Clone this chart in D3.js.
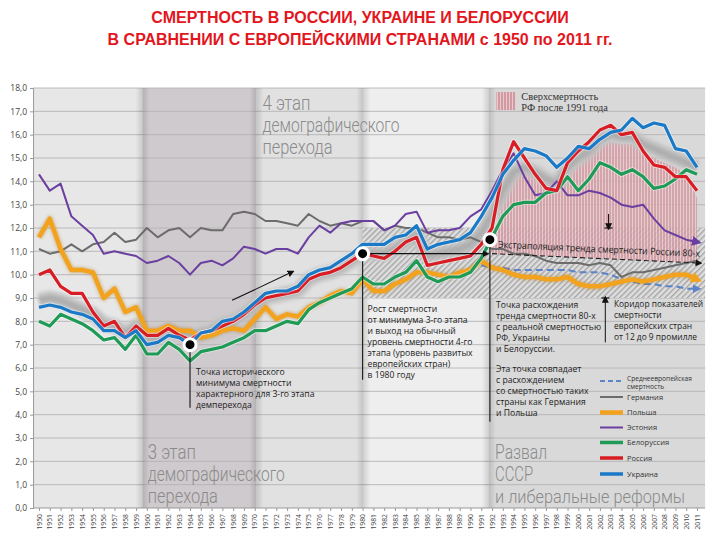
<!DOCTYPE html>
<html>
<head>
<meta charset="utf-8">
<script src="https://cdn.jsdelivr.net/npm/d3@7"></script>
<style>
  body { margin: 0; background: #fff; }
  svg { display: block; }
  text { font-family: "Open Sans", "DejaVu Sans", sans-serif; }
</style>
</head>
<body>
<svg id="chart" width="720" height="540"></svg>
<script>
// years on the x axis
const years = d3.range(1950, 2012);
const yTicks = d3.range(0, 19);

// crude death rate, per 1000
const estonia = [14.3, 13.6, 13.9, 12.5, 12.1, 11.7, 10.9, 11.0, 10.9, 10.8,
  10.5, 10.6, 10.8, 10.5, 10.0, 10.5, 10.6, 10.4, 10.7, 11.2,
  11.1, 10.9, 11.1, 11.1, 10.9, 11.6, 12.1, 11.8, 12.2, 12.3,
  12.3, 12.3, 11.9, 12.1, 12.6, 12.7, 11.8, 11.9, 11.9, 12.0,
  12.5, 12.8, 13.6, 14.5, 15.2, 14.2, 13.4, 13.5, 14.0, 13.4,
  13.4, 13.6, 13.5, 13.3, 13.0, 12.9, 13.0, 12.4, 11.9, 11.7, 11.5, 11.4];
const germany = [11.1, 10.9, 11.0, 11.3, 11.0, 11.3, 11.4, 11.8, 11.4, 11.5,
  12.0, 11.6, 11.9, 12.0, 11.6, 12.0, 11.9, 11.9, 12.6, 12.7,
  12.6, 12.3, 12.3, 12.2, 12.1, 12.6, 12.3, 12.1, 12.2, 12.1,
  12.3, 12.3, 11.9, 12.1, 12.0, 12.0, 11.8, 11.6, 11.6, 11.5,
  11.6, 11.4, 11.1, 11.1, 10.9, 10.9, 10.8, 10.6, 10.5, 10.5,
  10.5, 10.4, 10.5, 10.4, 9.9, 10.1, 10.1, 10.2, 10.3, 10.4, 10.5, 10.6];
const poland = [11.6, 12.4, 11.1, 10.2, 10.2, 10.1, 9.0, 9.4, 8.4, 8.6,
  7.6, 7.6, 7.8, 7.6, 7.6, 7.3, 7.4, 7.6, 7.7, 7.6,
  8.1, 8.6, 8.1, 8.3, 8.2, 8.6, 8.8, 9.1, 9.3, 9.2,
  9.8, 9.3, 9.3, 9.6, 9.8, 10.1, 10.1, 10.0, 9.9, 10.1,
  10.2, 10.6, 10.3, 10.2, 10.0, 9.9, 9.9, 9.8, 9.8, 9.9,
  9.6, 9.5, 9.5, 9.6, 9.7, 9.8, 9.7, 9.8, 9.9, 10.0, 10.0, 9.8];
const belarus = [8.0, 7.8, 8.3, 8.1, 7.9, 7.6, 7.2, 7.3, 6.8, 7.4,
  6.6, 6.6, 7.1, 6.8, 6.3, 6.7, 6.8, 6.9, 7.1, 7.3,
  7.6, 7.6, 7.8, 8.0, 7.9, 8.5, 8.8, 9.0, 9.2, 9.4,
  9.9, 9.6, 9.6, 9.9, 10.1, 10.6, 9.9, 9.7, 9.9, 9.9,
  10.1, 10.7, 11.6, 12.5, 13.0, 13.1, 13.1, 13.5, 13.6, 14.2,
  13.6, 14.1, 14.8, 14.6, 14.3, 14.5, 14.2, 13.7, 13.8, 14.1, 14.5, 14.3];
const russia = [10.0, 10.2, 9.5, 9.2, 9.2, 8.4, 7.8, 8.0, 7.3, 7.8,
  7.4, 7.4, 7.7, 7.4, 7.2, 7.5, 7.6, 7.8, 8.0, 8.3,
  8.7, 9.0, 9.1, 9.2, 9.3, 9.8, 10.0, 10.1, 10.3, 10.6,
  10.9, 10.8, 10.7, 11.0, 11.4, 11.6, 10.4, 10.5, 10.6, 10.7,
  10.8, 11.3, 12.0, 14.5, 15.7, 15.0, 14.3, 13.7, 13.6, 14.8,
  15.3, 15.7, 16.2, 16.4, 16.0, 16.1, 15.3, 14.7, 14.6, 14.2, 14.2, 13.6];
const ukraine = [8.6, 8.7, 8.6, 8.4, 8.3, 8.1, 7.6, 7.6, 7.3, 7.6,
  7.0, 7.1, 7.4, 7.3, 7.0, 7.5, 7.6, 8.0, 8.1, 8.4,
  8.8, 9.2, 9.3, 9.3, 9.5, 10.0, 10.2, 10.3, 10.6, 10.9,
  11.3, 11.3, 11.3, 11.6, 11.7, 12.1, 11.1, 11.3, 11.4, 11.5,
  11.8, 12.5, 13.3, 14.3, 14.9, 15.4, 15.3, 15.1, 14.6, 15.0,
  15.5, 15.4, 15.8, 16.1, 16.2, 16.7, 16.3, 16.5, 16.4, 15.4, 15.3, 14.6];
// grey shadow band that follows the upper group of lines
const halo = [8.9, 9.0, 8.9, 8.7, 8.5, 8.3, 7.9, 7.8, 7.5, 7.8,
  7.3, 7.3, 7.6, 7.5, 7.2, 7.5, 7.6, 7.9, 8.0, 8.3,
  8.7, 9.0, 9.1, 9.2, 9.3, 9.8, 10.0, 10.1, 10.3, 10.6,
  10.9, 10.9, 10.9, 11.1, 11.4, 11.7, 10.8, 10.9, 11.0, 11.1,
  11.3, 11.8, 12.6, 13.6, 14.4, 14.6, 14.4, 14.1, 13.9, 14.6,
  15.0, 15.3, 15.8, 16.0, 15.9, 15.9, 15.6, 15.4, 15.2, 15.0, 14.8, 14.6];

const euroYears = d3.range(1991, 2012);
const euroAvg = [10.4, 10.3, 10.3, 10.2, 10.2, 10.2, 10.2, 10.2, 10.2, 10.1,
  10.1, 10.1, 10.0, 9.8, 9.7, 9.6, 9.6, 9.5, 9.5, 9.4, 9.4];

// excess mortality area after 1991
const excessYears = d3.range(1992, 2012);
const excessTop = [11.3, 13.2, 14.2, 14.4, 14.2, 13.9, 13.8, 14.3, 14.7, 15.1,
  15.5, 15.7, 15.6, 15.6, 15.3, 15.0, 14.8, 14.6, 14.3, 13.3];
const trendYears = [1992, 2011];
const trendValues = [10.9, 10.5];

const corridor = [9, 12];
const bandEdges = [1949.45, 1959.6, 1970.15, 1980.05, 1991.7, 2011.75];
const bandColors = ['#e7e7e7', '#cfcacd', '#e1e1e1', '#eeeeee', '#d9d9d9'];

const legendNames = ['Германия', 'Польша', 'Эстония', 'Белоруссия', 'Россия', 'Украина'];

const svg = d3.select('#chart');
const x = d3.scaleLinear().domain([1950, 2011]).range([39, 697]);
const y = d3.scaleLinear().domain([0, 18]).range([508, 88]);
const plotLeft = x(bandEdges[0]), plotRight = x(bandEdges[5]);

const defs = svg.append('defs');
const hatch = defs.append('pattern').attr('id', 'hatch')
  .attr('patternUnits', 'userSpaceOnUse').attr('width', 4).attr('height', 4)
  .attr('patternTransform', 'rotate(45)');
hatch.append('rect').attr('width', 4).attr('height', 4).attr('fill', '#dedede');
hatch.append('line').attr('x1', 0.7).attr('x2', 0.7).attr('y1', 0).attr('y2', 4)
  .attr('stroke', '#a2a2a2').attr('stroke-width', 1.3);
const stripes = defs.append('pattern').attr('id', 'stripes')
  .attr('patternUnits', 'userSpaceOnUse').attr('width', 3).attr('height', 10);
stripes.append('rect').attr('width', 3).attr('height', 10).attr('fill', '#e8cace');
stripes.append('line').attr('x1', 1).attr('x2', 1).attr('y1', 0).attr('y2', 10)
  .attr('stroke', '#c0717c').attr('stroke-width', 1.1);
const shade = defs.append('linearGradient').attr('id', 'shade');
shade.append('stop').attr('offset', 0).attr('stop-color', '#000').attr('stop-opacity', 0);
shade.append('stop').attr('offset', 0.5).attr('stop-color', '#000').attr('stop-opacity', 0.13);
shade.append('stop').attr('offset', 1).attr('stop-color', '#000').attr('stop-opacity', 0);
defs.append('filter').attr('id', 'soft')
  .append('feGaussianBlur').attr('stdDeviation', 1.6);

function arrowMarker(id, color, size) {
  defs.append('marker').attr('id', id)
    .attr('viewBox', '0 0 10 10').attr('refX', 5).attr('refY', 5)
    .attr('markerWidth', size).attr('markerHeight', size)
    .attr('markerUnits', 'userSpaceOnUse')
    .attr('orient', 'auto')
    .append('path').attr('d', 'M0,0 L10,5 L0,10 z').attr('fill', color);
}
arrowMarker('arBlack', '#111', 7);
arrowMarker('arPurple', '#6b3fa0', 10);
arrowMarker('arOrange', '#f3a21e', 11);
arrowMarker('arDash', '#5d83c8', 9);

// title
svg.append('text').attr('x', 360).attr('y', 23).attr('text-anchor', 'middle')
  .style('font-family', '"Liberation Sans", Arial, sans-serif')
  .style('font-weight', 'bold').style('font-size', '16px').attr('fill', '#e3161e')
  .text('СМЕРТНОСТЬ В РОССИИ, УКРАИНЕ И БЕЛОРУССИИ');
svg.append('text').attr('x', 360).attr('y', 45).attr('text-anchor', 'middle')
  .style('font-family', '"Liberation Sans", Arial, sans-serif')
  .style('font-weight', 'bold').style('font-size', '16px').attr('fill', '#e3161e')
  .text('В СРАВНЕНИИ С ЕВРОПЕЙСКИМИ СТРАНАМИ с 1950 по 2011 гг.');

// background bands
svg.append('g').selectAll('rect').data(bandColors).join('rect')
  .attr('x', (d, i) => x(bandEdges[i]))
  .attr('width', (d, i) => x(bandEdges[i + 1]) - x(bandEdges[i]))
  .attr('y', y(18)).attr('height', y(0) - y(18))
  .attr('fill', d => d);

// gridlines
svg.append('g').selectAll('line').data(yTicks.slice(1)).join('line')
  .attr('x1', plotLeft).attr('x2', plotRight)
  .attr('y1', d => y(d)).attr('y2', d => y(d))
  .attr('stroke', '#b4b4b4').attr('stroke-width', 0.9);

// soft shadows at band borders
svg.append('g').selectAll('rect').data(bandEdges.slice(1, 5)).join('rect')
  .attr('x', d => x(d) - 7).attr('width', 14)
  .attr('y', y(18)).attr('height', y(0) - y(18))
  .attr('fill', 'url(#shade)');

// stage labels
function bigLabel(lines, x0, y0, widths, sizes) {
  const g = svg.append('g');
  lines.forEach((t, i) => {
    g.append('text').attr('x', x0).attr('y', y0 + i * 22)
      .style('font-family', 'Roboto, "DejaVu Sans", sans-serif')
      .style('font-weight', 300)
      .style('font-size', (sizes ? sizes[i] : 21) + 'px').attr('fill', '#8a8a8a')
      .attr('textLength', widths[i]).attr('lengthAdjust', 'spacingAndGlyphs')
      .text(t);
  });
}
bigLabel(['4 этап', 'демографического', 'перехода'], x(1971) - 3, 110, [48, 137, 70]);
bigLabel(['3 этап', 'демографического', 'перехода'], x(1960) + 1, 459, [48, 137, 70]);
bigLabel(['Развал', 'СССР', 'и либеральные реформы'], x(1992) + 3, 459, [52, 38, 190], [21, 21, 19]);

// corridor of European countries
svg.append('rect')
  .attr('x', x(1980)).attr('width', plotRight - x(1980))
  .attr('y', y(corridor[1])).attr('height', y(corridor[0]) - y(corridor[1]))
  .attr('fill', 'url(#hatch)');

// excess mortality area
const trend = d3.scaleLinear().domain(trendYears).range(trendValues);
const excessArea = d3.area()
  .x((d, i) => x(excessYears[i]))
  .y0((d, i) => y(trend(excessYears[i])))
  .y1(d => y(d));
svg.append('path').datum(excessTop).attr('d', excessArea)
  .attr('fill', 'url(#stripes)').attr('opacity', 0.82);

// grey halo
const line = d3.line().x((d, i) => x(years[i])).y(d => y(d));
const haloG = svg.append('g').attr('filter', 'url(#soft)');
[[16, '#c6c6c6', 0.75], [10, '#b3b3b3', 0.65], [5, '#a0a0a0', 0.5]].forEach(s => {
  haloG.append('path').datum(halo).attr('d', line).attr('fill', 'none')
    .attr('stroke', s[1]).attr('stroke-width', s[0]).attr('opacity', s[2])
    .attr('stroke-linejoin', 'round');
});

// axes
const yAxis = svg.append('g').attr('transform', `translate(${plotLeft},0)`)
  .call(d3.axisLeft(y).tickValues(yTicks).tickSize(3)
    .tickFormat(d => d3.format('.1f')(d).replace('.', ',')));
yAxis.select('.domain').attr('stroke', '#999');
yAxis.selectAll('.tick line').attr('stroke', '#999');
yAxis.selectAll('text').attr('fill', '#444').style('font-size', '8.5px')
  .style('font-family', '"Open Sans", sans-serif').attr('x', -6);

const xAxis = svg.append('g').attr('transform', `translate(0,${y(0)})`)
  .call(d3.axisBottom(x).tickValues(years).tickSize(3).tickFormat(d3.format('d')));
xAxis.select('.domain').attr('stroke', '#999').attr('d', `M${plotLeft},0H${plotRight}`);
xAxis.selectAll('.tick line').attr('stroke', '#999');
xAxis.selectAll('text').attr('fill', '#444').style('font-size', '6.8px')
  .style('font-family', '"Open Sans", sans-serif')
  .attr('transform', 'rotate(-90)').attr('text-anchor', 'end')
  .attr('x', -6).attr('y', 0).attr('dy', '0.32em');

// series lines
function drawLine(values, color, width, marker) {
  const p = svg.append('path').datum(values).attr('d', line).attr('fill', 'none')
    .attr('stroke', color).attr('stroke-width', width)
    .attr('stroke-linejoin', 'round');
  if (marker) p.attr('marker-end', `url(#${marker})`);
  return p;
}
drawLine(germany, '#6c6c6c', 2);
drawLine(estonia, '#6b3fa0', 2, 'arPurple');

const euroLine = d3.line().x((d, i) => x(euroYears[i])).y(d => y(d));
svg.append('path').datum(euroAvg).attr('d', euroLine).attr('fill', 'none')
  .attr('stroke', '#5d83c8').attr('stroke-width', 2).attr('stroke-dasharray', '7,4')
  .attr('marker-end', 'url(#arDash)');

drawLine(poland, '#b07a1a', 6.5).attr('opacity', 0.35).attr('filter', 'url(#soft)');
drawLine(poland, '#f3a21e', 4.5, 'arOrange');
drawLine(belarus, '#fff', 5).attr('opacity', 0.5);
drawLine(belarus, '#1f9a57', 3.2);
drawLine(russia, '#fff', 5).attr('opacity', 0.5);
drawLine(russia, '#d91d25', 3.2);
drawLine(ukraine, '#fff', 5).attr('opacity', 0.5);
drawLine(ukraine, '#1b7ac7', 3.2);

// extrapolation of the 1980s trend
svg.append('line')
  .attr('x1', x(trendYears[0])).attr('y1', y(trendValues[0]))
  .attr('x2', x(trendYears[1]) + 2).attr('y2', y(trendValues[1]))
  .attr('stroke', '#222').attr('stroke-width', 1.1).attr('stroke-dasharray', '5,3')
  .attr('marker-end', 'url(#arBlack)');
const ang = Math.atan2(y(trendValues[1]) - y(trendValues[0]), x(trendYears[1]) - x(trendYears[0])) * 180 / Math.PI;
svg.append('text')
  .attr('transform', `translate(${x(trendYears[0]) + 6},${y(trendValues[0]) - 6}) rotate(${ang})`)
  .style('font-size', '9.6px').attr('fill', '#222')
  .attr('textLength', 202).attr('lengthAdjust', 'spacingAndGlyphs')
  .text('Экстраполяция тренда смертности России 80-х');

// 1980 -> 1992 arrow
svg.append('line')
  .attr('x1', x(1980)).attr('y1', y(10.9)).attr('x2', x(1992) - 6).attr('y2', y(10.9))
  .attr('stroke', '#111').attr('stroke-width', 1.1).attr('marker-end', 'url(#arBlack)');
// growth arrow
svg.append('line')
  .attr('x1', x(1967.9)).attr('y1', y(8.9)).attr('x2', x(1973.4)).attr('y2', y(10.1))
  .attr('stroke', '#111').attr('stroke-width', 1.1).attr('marker-end', 'url(#arBlack)');

// corridor bound markers
svg.append('line').attr('x1', x(2002.8)).attr('x2', x(2002.8))
  .attr('y1', y(12.6)).attr('y2', y(12.05)).attr('stroke', '#111').attr('stroke-width', 1)
  .attr('marker-end', 'url(#arBlack)');
svg.append('line').attr('x1', x(2002.8) - 4).attr('x2', x(2002.8) + 4)
  .attr('y1', y(12)).attr('y2', y(12)).attr('stroke', '#111').attr('stroke-width', 1.2);
svg.append('line').attr('x1', x(2002.5)).attr('x2', x(2002.5))
  .attr('y1', y(7.1)).attr('y2', y(8.95)).attr('stroke', '#111').attr('stroke-width', 1)
  .attr('marker-end', 'url(#arBlack)');
svg.append('line').attr('x1', x(2002.5) - 4).attr('x2', x(2002.5) + 4)
  .attr('y1', y(9)).attr('y2', y(9)).attr('stroke', '#111').attr('stroke-width', 1.2);

// key points with leader lines
const keyYears = [1964, 1980, 1991.8];
const keyValues = [7.0, 10.9, 11.5];
const leaderEnds = [4.3, 5.5, 3.7];
svg.append('g').selectAll('line').data(keyYears).join('line')
  .attr('x1', d => x(d)).attr('x2', d => x(d))
  .attr('y1', (d, i) => y(keyValues[i])).attr('y2', (d, i) => y(leaderEnds[i]))
  .attr('stroke', '#222').attr('stroke-width', 1.2);
svg.append('g').selectAll('circle').data(keyYears).join('circle')
  .attr('cx', d => x(d)).attr('cy', (d, i) => y(keyValues[i]))
  .attr('r', 6).attr('fill', '#000').attr('stroke', '#fff').attr('stroke-width', 3);

// annotation blocks
function note(lines, x0, y0, size, lh) {
  const t = svg.append('text').style('font-size', size + 'px').attr('fill', '#222');
  lines.forEach((s, i) => t.append('tspan').attr('x', x0).attr('y', y0 + i * lh).text(s));
}
note(['Точка исторического', 'минимума смертности', 'характерного для 3-го этапа', 'демперехода'],
  x(1964) + 6, 375, 8.6, 11);
note(['Рост смертности', 'от минимума 3-го этапа', 'и выход на обычный', 'уровень смертности 4-го',
  'этапа (уровень развитых', 'европейских стран)', 'в 1980 году'], x(1980) + 5, 312, 8.6, 11);
note(['Точка расхождения', 'тренда смертности 80-х', 'с реальной смертностью', 'РФ, Украины',
  'и Белоруссии.'], x(1992) + 4, 308, 8.6, 10.9);
note(['Эта точка совпадает', 'с расхождением', 'со смертностью таких', 'страны как Германия',
  'и Польша'], x(1992) + 4, 372, 8.6, 10.9);
note(['Коридор показателей', 'смертности', 'европейских стран', 'от 12 до 9 промилле'],
  x(2003.3), 307, 8.4, 11);

// excess legend
svg.append('rect').attr('x', x(1992.4)).attr('y', 92).attr('width', 19).attr('height', 18)
  .attr('fill', 'url(#stripes)');
const ex = svg.append('text').style('font-family', '"Liberation Serif", "DejaVu Serif", serif')
  .style('font-size', '10.4px').attr('fill', '#333');
ex.append('tspan').attr('x', x(1992.4) + 25).attr('y', 100).text('Сверхсмертность');
ex.append('tspan').attr('x', x(1992.4) + 25).attr('y', 110.5).text('РФ после 1991 года');

// legend
const lg = svg.append('g').attr('transform', 'translate(600,0)');
lg.append('line').attr('x1', 0).attr('x2', 23).attr('y1', 381).attr('y2', 381)
  .attr('stroke', '#5d83c8').attr('stroke-width', 2).attr('stroke-dasharray', '5,3');
lg.append('text').attr('x', 27).attr('y', 381).style('font-size', '6.6px').attr('fill', '#333')
  .text('Среднеевропейская');
lg.append('text').attr('x', 27).attr('y', 389).style('font-size', '6.6px').attr('fill', '#333')
  .text('смертность');
const legendColors = ['#6c6c6c', '#f3a21e', '#6b3fa0', '#1f9a57', '#d91d25', '#1b7ac7'];
const legendWidths = [2, 4.5, 2, 3.5, 3.5, 3.5];
const legendRows = [397, 412.5, 427.5, 442.5, 458, 474];
lg.selectAll('line.s').data(legendNames).join('line').attr('class', 's')
  .attr('x1', 0).attr('x2', 23)
  .attr('y1', (d, i) => legendRows[i]).attr('y2', (d, i) => legendRows[i])
  .attr('stroke', (d, i) => legendColors[i])
  .attr('stroke-width', (d, i) => legendWidths[i]);
lg.selectAll('text.n').data(legendNames).join('text').attr('class', 'n')
  .attr('x', 27).attr('y', (d, i) => legendRows[i] + 2.5)
  .style('font-size', '7.5px').attr('fill', '#333')
  .text(d => d);
</script>
</body>
</html>
